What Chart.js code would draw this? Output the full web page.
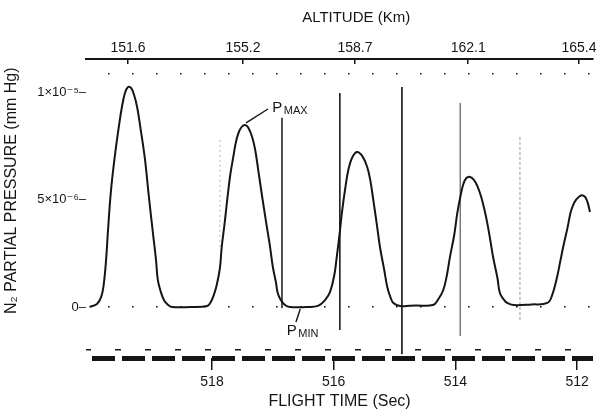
<!DOCTYPE html>
<html>
<head>
<meta charset="utf-8">
<title>N2 partial pressure vs flight time</title>
<script src="https://cdn.jsdelivr.net/npm/chart.js@4.4.1/dist/chart.umd.min.js"></script>
<style>
  html, body { margin: 0; padding: 0; background: #fff; }
</style>
</head>
<body>
<canvas id="pressureChart" width="599" height="411"></canvas>
<script>
// Flight time (sec) of each trace point, left to right (time runs backwards)
const flightTime = [
  520.01, 519.89, 519.82, 519.78, 519.74, 519.71, 519.66, 519.59, 519.53, 519.48,
  519.43, 519.38, 519.33, 519.28, 519.23, 519.17, 519.10, 519.04, 518.97, 518.92,
  518.89, 518.84, 518.79, 518.72, 518.66, 518.35, 518.08, 518.02, 517.97, 517.92,
  517.87, 517.84, 517.79, 517.75, 517.70, 517.65, 517.61, 517.57, 517.52, 517.46,
  517.41, 517.34, 517.29, 517.24, 517.18, 517.10, 517.05, 517.00, 516.95, 516.92,
  516.87, 516.80, 516.72, 516.45, 516.26, 516.14, 516.06, 515.99, 515.95, 515.90,
  515.86, 515.81, 515.76, 515.70, 515.62, 515.53, 515.45, 515.40, 515.35, 515.29,
  515.24, 515.17, 515.12, 515.07, 515.02, 514.91, 514.65, 514.37, 514.28, 514.20,
  514.14, 514.09, 514.02, 513.97, 513.92, 513.87, 513.82, 513.76, 513.70, 513.64,
  513.58, 513.53, 513.48, 513.43, 513.38, 513.31, 513.27, 513.20, 513.15, 513.05,
  512.75, 512.49, 512.41, 512.33, 512.28, 512.23, 512.16, 512.11, 512.07, 512.02,
  511.96, 511.92, 511.87, 511.83, 511.79
];
// N2 partial pressure, in units of 1e-6 mm Hg
const n2Pressure = [
  0.00, 0.14, 0.47, 1.02, 2.19, 3.50, 5.40, 7.16, 8.40, 9.30,
  9.95, 10.23, 10.19, 9.86, 9.30, 8.23, 6.84, 5.21, 3.44, 2.19,
  1.26, 0.70, 0.33, 0.09, 0.00, 0.00, 0.05, 0.23, 0.56, 1.05,
  1.81, 2.79, 3.95, 4.98, 6.14, 6.98, 7.63, 8.05, 8.35, 8.47,
  8.37, 7.91, 7.30, 6.37, 5.21, 3.75, 2.88, 1.86, 1.16, 0.65,
  0.33, 0.09, 0.00, 0.00, 0.05, 0.33, 0.70, 1.49, 2.33, 3.49,
  4.51, 5.53, 6.37, 6.93, 7.21, 7.02, 6.51, 5.91, 4.98, 3.81,
  2.79, 1.72, 0.93, 0.47, 0.19, 0.05, 0.07, 0.09, 0.37, 0.79,
  1.49, 2.33, 3.35, 4.37, 5.12, 5.72, 6.00, 6.05, 5.92, 5.62,
  5.15, 4.60, 3.95, 3.15, 2.30, 1.35, 0.65, 0.33, 0.19, 0.09,
  0.12, 0.19, 0.56, 1.40, 2.09, 2.79, 3.67, 4.37, 4.72, 4.98,
  5.15, 5.20, 5.12, 4.88, 4.42
];

const timeTicks = [518, 516, 514, 512];
const pressureTicks = [0, 5, 10];
const pressureLabels = ['0', '5×10⁻⁶', '1×10⁻⁵'];
const altitudeLabels = ['151.6', '155.2', '158.7', '162.1', '165.4'];
const altitudeTimes = [519.38, 517.49, 515.65, 513.79, 511.97];

// timing marks on the record: time, top and bottom (1e-6 mm Hg)
const markTimes = [517.87, 516.85, 515.90, 514.88, 513.92, 512.94];
const markTops = [7.77, 8.8, 9.95, 10.23, 9.49, 7.91];
const markBottoms = [2.79, -0.05, -1.07, -2.19, -1.35, -0.6];

const ink = '#151515';
const fontFamily = '"Liberation Sans", "DejaVu Sans", sans-serif';
Chart.defaults.font.family = fontFamily;
Chart.defaults.color = ink;

const T_MIN = 511.74, T_MAX = 520.07;
const P_LOW = -2.372, P_HIGH = 11.535;
const DOT_ROW = 10.837;   // dotted reference row near the top
const SPARK_ROW = -2.0;   // small marks above the time code

const markStyles = [
  { color: '#b5b5b5', dash: [2, 3] },
  { color: '#3a3a3a' },
  { color: '#202020' },
  { color: '#202020' },
  { color: '#777' },
  { color: '#999', dash: [3, 2] }
];

// P_MAX / P_MIN call-outs, in data units
const notes = [
  { main: 'P', sub: 'MAX', x: 517.01, y: 9.07, from: [517.08, 9.21], to: [517.44, 8.56] },
  { main: 'P', sub: 'MIN', x: 516.77, y: -1.30, from: [516.62, -0.70], to: [516.55, -0.09] }
];

function rowStyle(c) {
  const v = c.tick ? c.tick.value : null;
  if (v === P_LOW) return { color: ink, width: 5, dash: [23, 7], offset: 24 };
  if (v === SPARK_ROW) return { color: ink, width: 1.5, dash: [6, 24], offset: 1 };
  if (v === 0 || v === DOT_ROW) return { color: ink, width: 1.6, dash: [1.6, 22.4], offset: 2 };
  return { color: 'rgba(0,0,0,0)', width: 0, dash: [], offset: 0 };
}

const subscriptLabels = {
  id: 'subscriptLabels',
  afterDatasetsDraw(chart) {
    const { ctx, scales: { x, y } } = chart;
    ctx.save();
    ctx.strokeStyle = ink;
    ctx.fillStyle = ink;
    ctx.lineWidth = 1.4;
    notes.forEach(n => {
      ctx.beginPath();
      ctx.moveTo(x.getPixelForValue(n.from[0]), y.getPixelForValue(n.from[1]));
      ctx.lineTo(x.getPixelForValue(n.to[0]), y.getPixelForValue(n.to[1]));
      ctx.stroke();
      const px = x.getPixelForValue(n.x);
      const py = y.getPixelForValue(n.y);
      ctx.textBaseline = 'alphabetic';
      ctx.font = '15px ' + fontFamily;
      ctx.fillText(n.main, px, py);
      const w = ctx.measureText(n.main).width;
      ctx.font = '11px ' + fontFamily;
      ctx.fillText(n.sub, px + w + 1.5, py + 2);
    });
    ctx.restore();
  }
};

const curve = flightTime.map((t, i) => ({ x: t, y: n2Pressure[i] }));
const markSets = markTimes.map((t, i) => ({
  data: [{ x: t, y: markTops[i] }, { x: t, y: markBottoms[i] }],
  borderColor: markStyles[i].color,
  borderDash: markStyles[i].dash || [],
  borderWidth: 1,
  pointRadius: 0
}));

new Chart(document.getElementById('pressureChart'), {
  type: 'line',
  data: {
    datasets: [{
      label: 'N2 partial pressure',
      data: curve,
      borderColor: ink,
      borderWidth: 2,
      pointRadius: 0,
      tension: 0.4
    }, ...markSets]
  },
  options: {
    responsive: false,
    animation: false,
    layout: { padding: { left: 0, right: 6, top: 0, bottom: 0 } },
    plugins: {
      legend: { display: false },
      tooltip: { enabled: false }
    },
    scales: {
      x: {
        type: 'linear',
        position: 'bottom',
        reverse: true,
        min: T_MIN,
        max: T_MAX,
        afterBuildTicks: s => { s.ticks = timeTicks.map(v => ({ value: v })); },
        afterFit: s => { s.height = 53; },
        ticks: { autoSkip: false, maxRotation: 0, padding: 4, font: { size: 14 }, callback: v => String(v) },
        grid: { drawOnChartArea: false, drawTicks: true, tickLength: 12, color: ink, lineWidth: 1.5 },
        border: { display: false },
        title: { display: true, text: 'FLIGHT TIME (Sec)', font: { size: 16 }, padding: { top: 0, bottom: 0 } }
      },
      x2: {
        type: 'linear',
        position: 'top',
        reverse: true,
        min: T_MIN,
        max: T_MAX,
        afterBuildTicks: s => { s.ticks = altitudeTimes.map(v => ({ value: v })); },
        afterFit: s => { s.height = 59; },
        ticks: { autoSkip: false, maxRotation: 0, padding: 2, font: { size: 14 }, callback: (v, i) => altitudeLabels[i] },
        grid: { drawOnChartArea: true, drawTicks: false, color: ink, lineWidth: 1.5 },
        border: { display: true, width: 2, color: ink, dash: c => c.type === 'tick' ? [4, 1000] : [] },
        title: { display: true, text: '        ALTITUDE (Km)', font: { size: 15 }, padding: { top: 9, bottom: 0 } }
      },
      y: {
        type: 'linear',
        min: P_LOW,
        max: P_HIGH,
        afterBuildTicks: s => { s.ticks = [P_LOW, SPARK_ROW, ...pressureTicks, DOT_ROW].map(v => ({ value: v })); },
        afterFit: s => { s.width = 86; },
        ticks: {
          autoSkip: false,
          padding: 0,
          font: { size: 13 },
          callback: v => {
            const k = pressureTicks.indexOf(v);
            return k < 0 ? '' : pressureLabels[k] + '–';
          }
        },
        grid: { drawTicks: false, color: c => rowStyle(c).color, lineWidth: c => rowStyle(c).width },
        border: { display: false, dash: c => rowStyle(c).dash, dashOffset: c => rowStyle(c).offset },
        title: { display: true, text: '        N₂ PARTIAL PRESSURE (mm Hg)', font: { size: 16 }, padding: { top: 2, bottom: 0 } }
      }
    }
  },
  plugins: [subscriptLabels]
});
</script>
</body>
</html>
